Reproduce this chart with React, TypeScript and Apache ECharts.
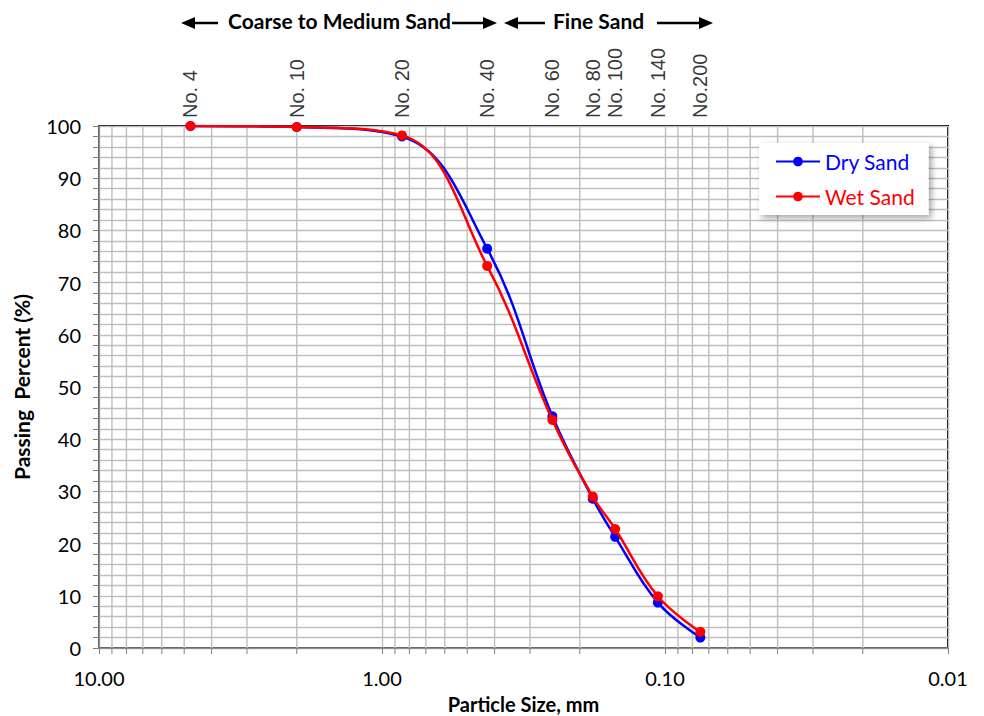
import React, { useEffect, useRef } from "react";
import * as echarts from "echarts";

const sieveNames = ["No. 4", "No. 10", "No. 20", "No. 40", "No. 60", "No. 80", "No. 100", "No. 140", "No.200"];
const sieveSizes = [4.75, 2.0, 0.85, 0.425, 0.25, 0.18, 0.15, 0.106, 0.075];
const drySand = [100, 99.8, 98.0, 76.5, 44.4, 28.6, 21.3, 8.7, 2.0];
const wetSand = [100, 99.8, 98.2, 73.2, 43.7, 29.0, 22.8, 9.9, 3.1];
const xGridValues = [
  9, 8, 7, 6, 5, 4, 3, 2,
  0.9, 0.8, 0.7, 0.6, 0.5, 0.4, 0.3, 0.2,
  0.09, 0.08, 0.07, 0.06, 0.05, 0.04, 0.03, 0.02,
];

const FONT = "Lato";

export default function App() {
  const ref = useRef<HTMLDivElement>(null);
  useEffect(() => {
    const chart = echarts.init(ref.current!, null, { renderer: "svg" });
    const arrow = (tipX: number, tailX: number, y: number) => {
      const dir = tailX > tipX ? 1 : -1;
      const headLen = 14;
      return [
        {
          type: "line",
          shape: { x1: tailX, y1: y, x2: tipX + dir * headLen, y2: y },
          style: { stroke: "#000", lineWidth: 2.5 },
        },
        {
          type: "polygon",
          shape: { points: [[tipX, y], [tipX + dir * headLen, y - 6], [tipX + dir * headLen, y + 6]] },
          style: { fill: "#000" },
        },
      ];
    };
    const headerY = 23;
    chart.setOption({
      animation: false,
      backgroundColor: "#fff",
      grid: {
        left: 99, right: 36, top: 126, bottom: 68,
        outerBoundsMode: "none",
        containLabel: false,
        show: true, borderColor: "#000", borderWidth: 2, backgroundColor: "transparent",
      },
      legend: {
        orient: "vertical",
        left: 759,
        top: 143,
        width: 172,
        padding: [8, 14, 8, 16],
        itemGap: 14,
        itemWidth: 44,
        itemHeight: 12,
        backgroundColor: "#fff",
        shadowBlur: 6,
        shadowColor: "rgba(0,0,0,0.35)",
        shadowOffsetX: 3,
        shadowOffsetY: 3,
        textStyle: { fontFamily: FONT, fontSize: 21 },
        data: [
          { name: "Dry Sand", textStyle: { color: "#0000ff" } },
          { name: "Wet Sand", textStyle: { color: "#ff0000" } },
        ],
      },
      xAxis: {
        type: "log",
        min: 0.01,
        max: 10,
        inverse: true,
        name: "Particle Size, mm",
        nameLocation: "middle",
        nameGap: 46,
        nameTextStyle: { fontFamily: FONT, fontWeight: "bold", fontSize: 20, color: "#000" },
        axisLine: { lineStyle: { color: "#7f7f7f", width: 1.5 } },
        axisTick: { show: true, length: 6, lineStyle: { color: "#7f7f7f" } },
        axisLabel: {
          margin: 20,
          fontFamily: FONT,
          fontSize: 20,
          color: "#000",
          formatter: (v: number) => v.toFixed(2),
        },
        splitLine: { show: true, lineStyle: { color: "#bfbfbf", width: 1.4 } },
      },
      yAxis: {
        type: "value",
        min: 0,
        max: 100,
        interval: 10,
        name: "Passing  Percent (%)",
        nameLocation: "middle",
        nameGap: 67,
        nameTextStyle: { fontFamily: FONT, fontWeight: "bold", fontSize: 21, color: "#000" },
        axisLine: { show: true, lineStyle: { color: "#7f7f7f", width: 1.5 } },
        axisTick: { show: true, length: 6, lineStyle: { color: "#7f7f7f" } },
        minorTick: { show: true, splitNumber: 5, length: 6, lineStyle: { color: "#7f7f7f" } },
        axisLabel: { margin: 18, fontFamily: FONT, fontSize: 20, color: "#000" },
        splitLine: { show: true, lineStyle: { color: "#bfbfbf", width: 1.4 } },
        minorSplitLine: { show: true, lineStyle: { color: "#bfbfbf", width: 1.4 } },
      },
      graphic: [
        ...arrow(181, 218, headerY),
        {
          type: "text",
          left: 228,
          top: headerY - 13,
          style: { text: "Coarse to Medium Sand", font: `bold 21px ${FONT}`, fill: "#000" },
        },
        ...arrow(497, 452, headerY),
        ...arrow(504, 545, headerY),
        {
          type: "text",
          left: 553,
          top: headerY - 13,
          style: { text: "Fine Sand", font: `bold 21px ${FONT}`, fill: "#000" },
        },
        ...arrow(713, 657, headerY),
      ],
      series: [
        {
          type: "custom",
          name: "grid",
          silent: true,
          z: 1,
          clip: false,
          data: xGridValues.map((v) => [v, 0]),
          encode: { x: 0, y: 1 },
          renderItem: (params: any, api: any) => {
            const v = api.value(0);
            const top = api.coord([v, 100]);
            const bot = api.coord([v, 0]);
            return {
              type: "group",
              children: [
                { type: "line", shape: { x1: top[0], y1: top[1], x2: bot[0], y2: bot[1] }, style: { stroke: "#bfbfbf", lineWidth: 1.4 } },
                { type: "line", shape: { x1: bot[0], y1: bot[1], x2: bot[0], y2: bot[1] + 6 }, style: { stroke: "#7f7f7f", lineWidth: 1 } },
              ],
            };
          },
        },
        {
          type: "scatter",
          name: "sieves",
          silent: true,
          symbolSize: 0,
          data: sieveSizes.map((s, i) => ({ value: [s, 100], name: sieveNames[i] })),
          label: {
            show: true,
            position: "top",
            distance: 8,
            rotate: 90,
            align: "left",
            verticalAlign: "middle",
            formatter: (p: any) => p.name,
            fontFamily: "Liberation Sans",
            fontSize: 20,
            color: "#000",
          },
          emphasis: { disabled: true },
          z: 5,
        },
        {
          type: "line",
          name: "Dry Sand",
          data: sieveSizes.map((s, i) => [s, drySand[i]]),
          smooth: 0.4,
          symbol: "circle",
          symbolSize: 10,
          itemStyle: { color: "#0000ff" },
          lineStyle: { color: "#0000ff", width: 2.5 },
          emphasis: { disabled: true },
          z: 10,
        },
        {
          type: "line",
          name: "Wet Sand",
          data: sieveSizes.map((s, i) => [s, wetSand[i]]),
          smooth: 0.4,
          symbol: "circle",
          symbolSize: 10,
          itemStyle: { color: "#ff0000" },
          lineStyle: { color: "#ff0000", width: 2.5 },
          emphasis: { disabled: true },
          z: 11,
        },
      ],
    });
    return () => chart.dispose();
  }, []);
  return <div ref={ref} style={{ width: 984, height: 716, position: "absolute", left: 0, top: 0 }} />;
}
